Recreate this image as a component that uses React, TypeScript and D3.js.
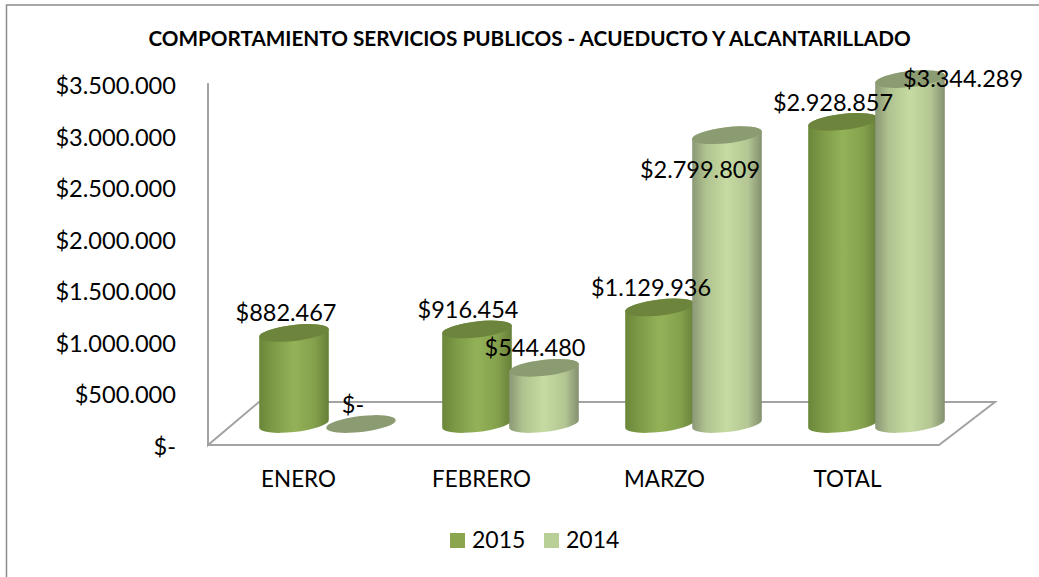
import React from "react";
import * as d3 from "d3";

const categories = ["ENERO", "FEBRERO", "MARZO", "TOTAL"];
const seriesNames = ["2015", "2014"];
const values2015 = [882467, 916454, 1129936, 2928857];
const values2014 = [0, 544480, 2799809, 3344289];
const labels2015 = ["$882.467", "$916.454", "$1.129.936", "$2.928.857"];
const labels2014 = ["$-", "$544.480", "$2.799.809", "$3.344.289"];
const yTickValues = [0, 500000, 1000000, 1500000, 2000000, 2500000, 3000000, 3500000];
const yTickLabels = ["$-", "$500.000", "$1.000.000", "$1.500.000", "$2.000.000", "$2.500.000", "$3.000.000", "$3.500.000"];

const FONT = "Lato, 'Open Sans', sans-serif";
const W = 1039, H = 577;

const x0 = d3.scaleBand<string>().domain(categories).range([236, 968]).paddingInner(0).paddingOuter(0);
const x1 = d3.scaleBand<string>().domain(seriesNames).range([0, 134]);
const groupOffset = (183 - 134) / 2;
const yAxis = d3.scaleLinear().domain([0, 3500000]).range([447, 86]);
const yBar = d3.scaleLinear().domain([0, 3500000]).range([424, 63]);

const ROT = -6.5;
const rad = (ROT * Math.PI) / 180;
const A = 35, B = 8;
const ex = Math.sqrt(A * A * Math.cos(rad) ** 2 + B * B * Math.sin(rad) ** 2);
const dy = ((A * A - B * B) * Math.abs(Math.sin(rad)) * Math.cos(rad)) / ex;

function Cylinder({ cx, top, bottom, body, cap }: { cx: number; top: number; bottom: number; body: string; cap: string }) {
  const l = cx - ex, r = cx + ex;
  const d = `M${l},${top + dy}L${l},${bottom + dy}A${A},${B} ${ROT} 0 0 ${r},${bottom - dy}L${r},${top - dy}A${A},${B} ${ROT} 0 0 ${l},${top + dy}Z`;
  return (
    <g>
      {bottom - top > 0.5 && <path d={d} fill={body} />}
      <ellipse cx={0} cy={0} rx={A} ry={B} fill={cap} transform={`translate(${cx},${top}) rotate(${ROT})`} />
    </g>
  );
}

const labelPos2015 = [[286, 313], [468, 310], [651, 288], [833, 103]];
const labelPos2014 = [[353, 405], [535, 348], [700, 170], [963, 79]];

export default function App() {
  const cx = (cat: string, s: string) => (x0(cat) as number) + groupOffset + (x1(s) as number) + x1.bandwidth() / 2;
  return (
    <svg width={W} height={H} viewBox={`0 0 ${W} ${H}`} style={{ position: "absolute", left: 0, top: 0, background: "#fff" }} fontFamily={FONT}>
      <defs>
        <linearGradient id="g2015" x1="0" x2="1" y1="0" y2="0">
          <stop offset="0" stopColor="#6a8638" />
          <stop offset="0.2" stopColor="#7d9a47" />
          <stop offset="0.5" stopColor="#93b258" />
          <stop offset="0.8" stopColor="#84a04c" />
          <stop offset="1" stopColor="#667f38" />
        </linearGradient>
        <linearGradient id="g2014" x1="0" x2="1" y1="0" y2="0">
          <stop offset="0" stopColor="#8b9876" />
          <stop offset="0.2" stopColor="#b0c38f" />
          <stop offset="0.5" stopColor="#c6daa2" />
          <stop offset="0.8" stopColor="#b3c693" />
          <stop offset="1" stopColor="#84906f" />
        </linearGradient>
      </defs>
      <rect x={6.5} y={5} width={1040} height={600} fill="none" stroke="#8c8c8c" strokeWidth={1.5} />
      <text x={529.5} y={46} textAnchor="middle" fontWeight={700} fontSize={20.7} fill="#000">
        COMPORTAMIENTO SERVICIOS PUBLICOS - ACUEDUCTO Y ALCANTARILLADO
      </text>
      <path d="M208,83V445L259,402H995L939,445H208" fill="none" stroke="#a3a3a3" strokeWidth={2} />
      {yTickValues.map((v, i) => (
        <text key={v} x={176} y={yAxis(v)} dy="0.34em" textAnchor="end" fontSize={23.6} fill="#000">{yTickLabels[i]}</text>
      ))}
      {categories.map((c, i) => (
        <g key={c}>
          <Cylinder cx={cx(c, "2015")} top={yBar(values2015[i])} bottom={yBar(0)} body="url(#g2015)" cap="#6d843c" />
          <Cylinder cx={cx(c, "2014")} top={yBar(values2014[i])} bottom={yBar(0)} body="url(#g2014)" cap="#8c9c72" />
        </g>
      ))}
      {categories.map((c, i) => (
        <g key={c} fontSize={23.5} fill="#000" textAnchor="middle">
          <text x={labelPos2015[i][0]} y={labelPos2015[i][1] + 8}>{labels2015[i]}</text>
          <text x={labelPos2014[i][0]} y={labelPos2014[i][1] + 8}>{labels2014[i]}</text>
        </g>
      ))}
      {categories.map((c) => (
        <text key={c} x={(x0(c) as number) + x0.bandwidth() / 2 - 29} y={487} textAnchor="middle" fontSize={22.4} fill="#000">{c}</text>
      ))}
      <rect x={450} y={533} width={15} height={15} fill="#8aa54e" />
      <text x={472} y={548} fontSize={23} fill="#000">{seriesNames[0]}</text>
      <rect x={544} y={533} width={15} height={15} fill="#b8cf95" />
      <text x={566} y={548} fontSize={23} fill="#000">{seriesNames[1]}</text>
    </svg>
  );
}
